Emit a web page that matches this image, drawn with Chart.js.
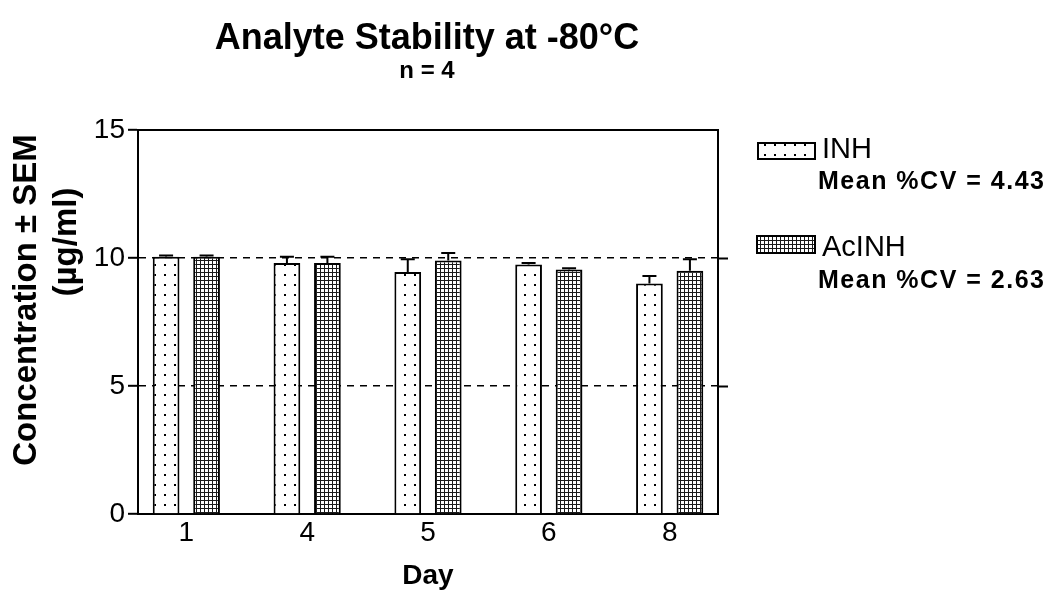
<!DOCTYPE html>
<html><head><meta charset="utf-8">
<script src="https://cdn.jsdelivr.net/npm/chart.js@4.4.1/dist/chart.umd.min.js"></script>
<style>html,body{margin:0;padding:0;background:#fff;}</style>
</head><body>
<canvas id="c" width="1053" height="591"></canvas>
<script>
// ---- data ----
const days = ['1', '4', '5', '6', '8'];
const inhMean = [10.05, 9.8, 9.45, 9.75, 9.0];
const inhSem = [0.05, 0.25, 0.5, 0.05, 0.3];
const acinhMean = [10.05, 9.8, 9.9, 9.55, 9.5];
const acinhSem = [0.05, 0.25, 0.3, 0.05, 0.45];
const yTicks = [0, 5, 10, 15];
const seriesNames = ['INH', 'AcINH'];
const cvTexts = ['Mean %CV = 4.43', 'Mean %CV = 2.63'];
const titleText = 'Analyte Stability at -80°C';
const subtitleText = 'n = 4';
const yTitle1 = 'Concentration ± SEM';
const yTitle2 = '(µg/ml)';
const xTitle = 'Day';

const FONT = "'Liberation Sans', Arial, Helvetica, sans-serif";

function makeDotPattern() {
  const t = document.createElement('canvas');
  t.width = 10; t.height = 10;
  const g = t.getContext('2d');
  g.fillStyle = '#fff'; g.fillRect(0, 0, 10, 10);
  g.fillStyle = '#000'; g.fillRect(4, 4, 2, 2);
  return document.createElement('canvas').getContext('2d').createPattern(t, 'repeat');
}
function makeMeshPattern() {
  const t = document.createElement('canvas');
  t.width = 4; t.height = 4;
  const g = t.getContext('2d');
  g.fillStyle = '#fff'; g.fillRect(0, 0, 4, 4);
  g.fillStyle = '#1a1a1a'; g.fillRect(0, 0, 4, 1); g.fillRect(0, 0, 1, 4);
  return document.createElement('canvas').getContext('2d').createPattern(t, 'repeat');
}
const patINH = makeDotPattern();
const patAc = makeMeshPattern();
const means = [inhMean, acinhMean];
const sems = [inhSem, acinhSem];
const pats = [patINH, patAc];

const decor = {
  id: 'decor',
  afterDatasetsDraw(chart) {
    const ctx = chart.ctx, ys = chart.scales.y;
    ctx.save();
    ctx.strokeStyle = '#000'; ctx.lineWidth = 2;
    for (let d = 0; d < 2; d++) {
      const meta = chart.getDatasetMeta(d);
      meta.data.forEach((el, i) => {
        const yTop = el.y;
        const yE = ys.getPixelForValue(means[d][i] + sems[d][i]);
        ctx.beginPath();
        ctx.moveTo(el.x, yTop); ctx.lineTo(el.x, yE);
        ctx.moveTo(el.x - 7, yE); ctx.lineTo(el.x + 7, yE);
        ctx.stroke();
      });
    }
    ctx.restore();
  },
  afterDraw(chart) {
    const ctx = chart.ctx, a = chart.chartArea;
    ctx.save();
    // top frame
    ctx.strokeStyle = '#000'; ctx.lineWidth = 2;
    ctx.beginPath(); ctx.moveTo(a.left - 1, a.top); ctx.lineTo(a.right + 1, a.top); ctx.stroke();
    ctx.fillStyle = '#000';
    // titles
    ctx.textAlign = 'center'; ctx.textBaseline = 'alphabetic';
    ctx.font = 'bold 36px ' + FONT;
    ctx.fillText(titleText, 427, 49);
    ctx.font = 'bold 24px ' + FONT;
    ctx.fillText(subtitleText, 427, 78);
    ctx.font = 'bold 28px ' + FONT;
    ctx.fillText(xTitle, 428, 584);
    // y titles
    ctx.save();
    ctx.translate(27, 300); ctx.rotate(-Math.PI / 2);
    ctx.textBaseline = 'middle';
    ctx.font = 'bold 33px ' + FONT;
    ctx.fillText(yTitle1, 0, 0);
    ctx.restore();
    ctx.save();
    ctx.translate(67, 242); ctx.rotate(-Math.PI / 2);
    ctx.textBaseline = 'middle';
    ctx.font = 'bold 33px ' + FONT;
    ctx.fillText(yTitle2, 0, 0);
    ctx.restore();
    // legend
    const boxes = [[758, 143, 57, 16], [757, 236, 58, 17]];
    const nameY = [158, 256], cvY = [189, 288];
    ctx.textAlign = 'left';
    for (let d = 0; d < 2; d++) {
      const b = boxes[d];
      ctx.fillStyle = pats[d]; ctx.fillRect(b[0], b[1], b[2], b[3]);
      ctx.strokeStyle = '#000'; ctx.lineWidth = 2; ctx.strokeRect(b[0], b[1], b[2], b[3]);
      ctx.fillStyle = '#000';
      ctx.font = '29px ' + FONT;
      ctx.fillText(seriesNames[d], 822, nameY[d]);
      ctx.font = 'bold 25px ' + FONT;
      ctx.letterSpacing = '1.5px';
      ctx.fillText(cvTexts[d], 818, cvY[d]);
      ctx.letterSpacing = '0px';
    }
    ctx.restore();
  }
};

const tickFont = { family: FONT, size: 28 };

new Chart(document.getElementById('c'), {
  type: 'bar',
  data: {
    datasets: [0, 1].map(d => ({
      label: seriesNames[d],
      data: means[d].map((v, i) => ({ x: i, y: v })),
      backgroundColor: pats[d],
      borderColor: '#000',
      borderWidth: 2,
      borderSkipped: 'bottom',
      categoryPercentage: 0.67,
      barPercentage: 0.66
    }))
  },
  options: {
    responsive: false,
    animation: false,
    devicePixelRatio: 1,
    layout: { padding: { top: 130, left: 0, right: 0, bottom: 0 } },
    plugins: { legend: { display: false }, title: { display: false }, tooltip: { enabled: false } },
    scales: {
      x: {
        type: 'linear', position: 'bottom', min: -0.40, max: 4.40, offset: false,
        afterBuildTicks: s => { s.ticks = days.map((d, i) => ({ value: i })); },
        afterFit: s => { s.height = 77; },
        grid: { display: true, offset: false, color: 'rgba(0,0,0,0)', drawTicks: false },
        border: { display: true, color: '#000', width: 2 },
        ticks: { color: '#000', font: tickFont, padding: 2, maxRotation: 0, autoSkip: false,
          callback: v => (days[v] !== undefined ? days[v] : '') }
      },
      y: {
        type: 'linear', position: 'left', min: 0, max: 15,
        afterBuildTicks: s => { s.ticks = yTicks.map(v => ({ value: v })); },
        afterFit: s => { s.width = 138; },
        grid: {
          color: c => (c.tick && (c.tick.value === 5 || c.tick.value === 10)) ? '#000' : 'rgba(0,0,0,0)',
          lineWidth: 1.6, drawTicks: true, tickLength: 10, tickColor: '#000', tickWidth: 2, tickBorderDash: []
        },
        border: { display: true, color: '#000', width: 2, dash: [7, 6] },
        ticks: { color: '#000', font: tickFont, padding: 3 }
      },
      y2: {
        type: 'linear', position: 'right', min: 0, max: 15,
        afterBuildTicks: s => { s.ticks = yTicks.map(v => ({ value: v })); },
        afterFit: s => { s.width = 335; },
        grid: {
          drawOnChartArea: false, drawTicks: true, tickLength: 10, tickWidth: 2,
          tickColor: c => (c.tick && (c.tick.value === 5 || c.tick.value === 10)) ? '#000' : 'rgba(0,0,0,0)'
        },
        border: { display: true, color: '#000', width: 2 },
        ticks: { display: false }
      }
    }
  },
  plugins: [decor]
});
</script>
</body></html>
